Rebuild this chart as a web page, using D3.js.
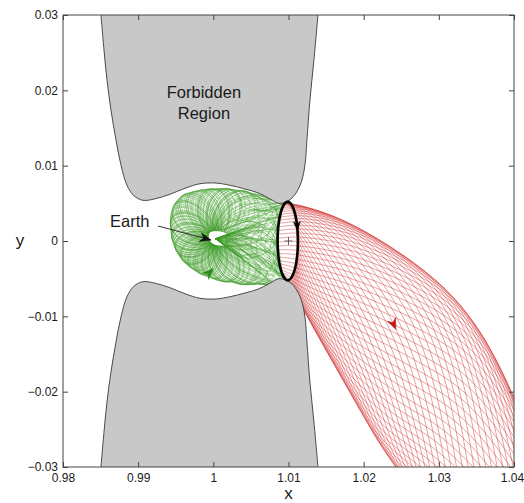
<!DOCTYPE html>
<html><head><meta charset="utf-8">
<script src="https://cdn.jsdelivr.net/npm/d3@7"></script>
<style>
body{margin:0;background:#fff}
svg{display:block}
text{font-family:"Liberation Sans",Arial,Helvetica,sans-serif;fill:#1a1a1a}
</style>
</head><body>
<svg id="chart" width="524" height="503"></svg>
<script>
// ---- axis ticks ----
const xTicks = [0.98, 0.99, 1, 1.01, 1.02, 1.03, 1.04];
const xTickLabels = ["0.98", "0.99", "1", "1.01", "1.02", "1.03", "1.04"];
const yTicks = [-0.03, -0.02, -0.01, 0, 0.01, 0.02, 0.03];
const yTickLabels = ["\u22120.03", "\u22120.02", "\u22120.01", "0", "0.01", "0.02", "0.03"];

// ---- zero-velocity boundary of the upper forbidden lobe (lower lobe = mirror in y) ----
const forbiddenUpper = [
  [0.98505, 0.0300], [0.98545, 0.0254], [0.98585, 0.0214], [0.98638, 0.0174],
  [0.98705, 0.0134], [0.98771, 0.0101], [0.98851, 0.0074], [0.98944, 0.0060],
  [0.99064, 0.0054], [0.99224, 0.0056], [0.99423, 0.0062], [0.99623, 0.0070],
  [0.99822, 0.0076], [1.00022, 0.0077], [1.00221, 0.0074], [1.00421, 0.0069],
  [1.00594, 0.0064], [1.00753, 0.0056], [1.00873, 0.0050], [1.00966, 0.0052],
  [1.01046, 0.0057], [1.01126, 0.0068], [1.01179, 0.0081], [1.01219, 0.0101],
  [1.01245, 0.0134], [1.01285, 0.0187], [1.01338, 0.0240], [1.01392, 0.0300]
];

// ---- periodic orbit about L2 ----
const l2Point = [1.0100, 0];
const orbitCenter = [1.0099, 0];
const orbitRadii = [0.00135, 0.0052];

// ---- unstable manifold tube (red): edge stations from the orbit outwards ----
const redUpperEdge = [
  [1.00953, 0.00504], [1.01152, 0.00478], [1.01551, 0.00358], [1.01950, 0.00173],
  [1.02482, -0.00146], [1.03014, -0.00544], [1.03413, -0.00982], [1.03746, -0.01513],
  [1.04078, -0.02243], [1.04410, -0.03100]
];
const redLowerEdge = [
  [1.01006, -0.00531], [1.01099, -0.00717], [1.01259, -0.01022], [1.01445, -0.01354],
  [1.01684, -0.01778], [1.01950, -0.02243], [1.02216, -0.02707], [1.02456, -0.03039],
  [1.02675, -0.03371], [1.02875, -0.03700]
];

// ---- stable manifold (green): outer envelope in the Earth realm ----
const greenEnvelope = [
  [1.00926, 0.00478], [1.00727, 0.00571], [1.00514, 0.00637], [1.00288, 0.00677],
  [1.00022, 0.00690], [0.99782, 0.00664], [0.99596, 0.00610], [0.99490, 0.00504],
  [0.99436, 0.00345], [0.99436, 0.00146], [0.99476, -0.00053], [0.99569, -0.00226],
  [0.99729, -0.00372], [0.99955, -0.00478], [1.00248, -0.00544], [1.00594, -0.00570],
  [1.00966, -0.00544]
];
const earthFocus = [1.0003, 0.0003];

const redStrands = 64;
const greenStrands = 56;

// ---- annotations ----
const regionLabel = { x: 0.99875, lines: [["Forbidden", 0.01898], ["Region", 0.01619]] };
const earthLabel = { text: "Earth", at: [0.98625, 0.00186], from: [0.99264, 0.00199], to: [0.99969, 0.00013] };
const redArrow = { at: [1.0242, -0.0118], heading: [0.25, 1] };
const greenArrow = { at: [0.99996, -0.00358], heading: [1, -0.1] };

// ---------------------------------------------------------------------------
const W = 524, H = 503;
const margin = { left: 63, right: 10, top: 15, bottom: 36 };
const TAU = 2 * Math.PI;
const svg = d3.select("#chart");
const x = d3.scaleLinear().domain([0.98, 1.04]).range([margin.left, W - margin.right]);
const y = d3.scaleLinear().domain([-0.03, 0.03]).range([H - margin.bottom, margin.top]);
const P = d => [x(d[0]), y(d[1])];

svg.append("defs").append("clipPath").attr("id", "plot")
  .append("rect").attr("x", x(0.98)).attr("y", y(0.03))
  .attr("width", x(1.04) - x(0.98)).attr("height", y(-0.03) - y(0.03));

const plot = svg.append("g").attr("clip-path", "url(#plot)");
const line = d3.line();
const smooth = d3.line().curve(d3.curveCatmullRom.alpha(0.5));

// orbit ellipse in pixel space: phase 0 at the top, pi/2 right, pi bottom, 3pi/2 left
const oc = P(orbitCenter);
const oa = x(orbitCenter[0] + orbitRadii[0]) - x(orbitCenter[0]);
const ob = y(0) - y(orbitRadii[1]);
const orbitAt = phi => [oc[0] + oa * Math.sin(phi), oc[1] - ob * Math.cos(phi)];

// ---- green strands: loops around the Earth realm, then in to the focus ----
const F = P(earthFocus);
const mod = a => ((a % TAU) + TAU) % TAU;
const angOf = p => mod(Math.atan2(-(p[1] - F[1]), p[0] - F[0]));
const distF = p => Math.hypot(p[0] - F[0], p[1] - F[1]);
const polar = [];
greenEnvelope.forEach(d => { const p = P(d); polar.push([angOf(p), distF(p)]); });
d3.range(0, 41).forEach(i => {
  const p = orbitAt(1.5 * Math.PI + (i / 40 - 0.5) * Math.PI * 0.95);
  polar.push([angOf(p), distF(p)]);
});
polar.sort((a, b) => a[0] - b[0]);
const polarAngles = polar.map(q => q[0]);
function envR(a) {
  a = mod(a);
  const n = polar.length;
  const i = d3.bisectLeft(polarAngles, a);
  let p0, p1, a0, a1;
  if (i === 0 || i === n) {
    p0 = polar[n - 1]; p1 = polar[0]; a0 = p0[0]; a1 = p1[0] + TAU;
    if (a < a0) a += TAU;
  } else { p0 = polar[i - 1]; p1 = polar[i]; a0 = p0[0]; a1 = p1[0]; }
  const t = (a - a0) / Math.max(1e-9, a1 - a0);
  return p0[1] + t * (p1[1] - p0[1]);
}
const smoothstep = t => { t = Math.max(0, Math.min(1, t)); return t * t * (3 - 2 * t); };
const greenPaths = d3.range(greenStrands).map(k => {
  const u = k / (greenStrands - 1);
  const start = orbitAt(Math.PI + u * Math.PI);         // left half of the orbit, bottom -> top
  let a0 = angOf(start); if (a0 > Math.PI) a0 -= TAU;
  const psi = TAU * ((k * 9) % greenStrands) / greenStrands;
  const pts = [];
  const n = 280;
  for (let i = 0; i <= n; i++) {
    const s = i / n;
    const a = a0 + s * (TAU - 0.15);
    const g = 1 - 0.84 * (1 - Math.cos(3 * (a - a0) + psi)) / 2;
    const r = envR(a) * g;
    const q = [F[0] + r * Math.cos(a), F[1] - r * Math.sin(a)];
    const b = smoothstep(s / 0.12);
    pts.push([start[0] + (q[0] - start[0]) * b, start[1] + (q[1] - start[1]) * b]);
  }
  pts.push(F);
  return pts;
});
plot.append("g").selectAll("path").data(greenPaths).join("path")
  .attr("d", smooth).attr("fill", "none")
  .attr("stroke", "#3a9a22").attr("stroke-opacity", 0.65).attr("stroke-width", 0.55);

// ---- red strands: helical tube leaving the orbit ----
const uX = d3.interpolateBasis(redUpperEdge.map(d => x(d[0])));
const uY = d3.interpolateBasis(redUpperEdge.map(d => y(d[1])));
const lX = d3.interpolateBasis(redLowerEdge.map(d => x(d[0])));
const lY = d3.interpolateBasis(redLowerEdge.map(d => y(d[1])));
const omega = TAU * 0.32;
function redPoint(phi, s) {
  const t = 0.5 + 0.5 * Math.cos(phi + omega * s);
  const ux = uX(s), uy = uY(s), lx = lX(s), ly = lY(s);
  return [lx + (ux - lx) * t + oa * Math.sin(phi + omega * s) * Math.exp(-s * 8),
          ly + (uy - ly) * t];
}
const redPaths = d3.range(redStrands).map(k => {
  const phi = (k / redStrands) * TAU;
  return d3.range(0, 241).map(i => redPoint(phi, i / 240));
});
plot.append("g").selectAll("path").data(redPaths).join("path")
  .attr("d", line).attr("fill", "none")
  .attr("stroke", "#d02a2a").attr("stroke-opacity", 0.7).attr("stroke-width", 0.65);

// ---- forbidden regions ----
const lowerBoundary = forbiddenUpper.map(d => [d[0], -d[1]]);
[[forbiddenUpper, 0.04], [lowerBoundary, -0.04]].forEach(([pts, edge]) => {
  const curve = pts.map(P);
  const closing = [[pts[pts.length - 1][0], edge], [pts[0][0], edge]].map(P);
  plot.append("path")
    .attr("d", smooth(curve) + "L" + closing.map(p => p.join(",")).join("L") + "Z")
    .attr("fill", "#c8c8c8").attr("stroke", "none");
  plot.append("path").attr("d", smooth(curve))
    .attr("fill", "none").attr("stroke", "#4a4a4a").attr("stroke-width", 1);
});

// ---- periodic orbit and L2 ----
const orbitPts = d3.range(0, 121).map(i => orbitAt(i / 120 * TAU));
plot.append("path").attr("d", line(orbitPts)).attr("fill", "none")
  .attr("stroke", "#000").attr("stroke-width", 2.6);
const l2 = P(l2Point);
plot.append("path").attr("d", `M${l2[0] - 4},${l2[1]}H${l2[0] + 4}M${l2[0]},${l2[1] - 4}V${l2[1] + 4}`)
  .attr("stroke", "#555").attr("stroke-width", 0.9);

// ---- arrowheads ----
function arrowHead(tip, dir, color, len = 11, half = 4.5, notch = 3.5) {
  const m = Math.hypot(dir[0], dir[1]); const d = [dir[0] / m, dir[1] / m]; const nrm = [-d[1], d[0]];
  const b = [tip[0] - len * d[0], tip[1] - len * d[1]];
  const pts = [tip, [b[0] + half * nrm[0], b[1] + half * nrm[1]],
               [tip[0] - (len - notch) * d[0], tip[1] - (len - notch) * d[1]],
               [b[0] - half * nrm[0], b[1] - half * nrm[1]]];
  plot.append("path").attr("d", line(pts) + "Z").attr("fill", color).attr("stroke", color).attr("stroke-width", 0.5);
}
// flow arrow on the strand passing near a point and heading roughly the given way
function flowArrow(paths, spec, color) {
  const target = P(spec.at);
  const hm = Math.hypot(spec.heading[0], spec.heading[1]);
  const h = [spec.heading[0] / hm, spec.heading[1] / hm];
  let best = null, bs = Infinity;
  paths.forEach(path => path.forEach((p, i) => {
    if (i < 2 || i > path.length - 3) return;
    const d = Math.hypot(p[0] - target[0], p[1] - target[1]);
    if (d > 8) return;
    const a = path[i - 2], b = path[i + 2];
    const tl = Math.hypot(b[0] - a[0], b[1] - a[1]) || 1;
    const c = ((b[0] - a[0]) * h[0] + (b[1] - a[1]) * h[1]) / tl;
    const score = d + 12 * (1 - c);
    if (score < bs) { bs = score; best = [path, i]; }
  }));
  const [path, i] = best;
  const a = path[i - 2], b = path[i + 2];
  arrowHead(path[i], [b[0] - a[0], b[1] - a[1]], color);
}
flowArrow(redPaths, redArrow, "#c01818");
flowArrow(greenPaths, greenArrow, "#2a8a1a");
// direction of motion on the orbit
{
  const phi = 1.25;
  const p = orbitAt(phi), q = orbitAt(phi + 0.05);
  arrowHead(q, [q[0] - p[0], q[1] - p[1]], "#000", 9, 3.5, 3);
}

// ---- labels ----
regionLabel.lines.forEach(([t, yy]) => {
  svg.append("text").attr("x", x(regionLabel.x)).attr("y", y(yy))
    .attr("text-anchor", "middle").attr("font-size", 16.5).text(t);
});
svg.append("text").attr("x", x(earthLabel.at[0])).attr("y", y(earthLabel.at[1]))
  .attr("font-size", 16.5).text(earthLabel.text);
{
  const a = P(earthLabel.from), b = P(earthLabel.to);
  plot.append("line").attr("x1", a[0]).attr("y1", a[1]).attr("x2", b[0]).attr("y2", b[1])
    .attr("stroke", "#222").attr("stroke-width", 0.9);
  arrowHead(b, [b[0] - a[0], b[1] - a[1]], "#111", 11, 4.5, 3.5);
}

// ---- axes (ticks inward on all sides) ----
const axisColor = "#444";
function styleAxis(g) {
  g.select(".domain").remove();
  g.selectAll(".tick line").attr("stroke", axisColor);
  g.selectAll(".tick text").attr("font-size", 12).attr("fill", "#222")
    .attr("font-family", '"Liberation Sans",Arial,Helvetica,sans-serif');
}
const xAxisG = svg.append("g").attr("transform", `translate(0,${y(-0.03)})`)
  .call(d3.axisBottom(x).tickValues(xTicks).tickFormat((d, i) => xTickLabels[i]).tickSizeInner(-5).tickSizeOuter(0).tickPadding(6))
  .call(styleAxis);
// keep the last label inside the canvas
xAxisG.selectAll(".tick text").filter(d => d === 1.04).attr("dx", -2);
svg.append("g").attr("transform", `translate(0,${y(0.03)})`)
  .call(d3.axisTop(x).tickValues(xTicks).tickFormat("").tickSizeInner(-5).tickSizeOuter(0))
  .call(styleAxis);
svg.append("g").attr("transform", `translate(${x(0.98)},0)`)
  .call(d3.axisLeft(y).tickValues(yTicks).tickFormat((d, i) => yTickLabels[i]).tickSizeInner(-5).tickSizeOuter(0).tickPadding(5))
  .call(styleAxis);
svg.append("g").attr("transform", `translate(${x(1.04)},0)`)
  .call(d3.axisRight(y).tickValues(yTicks).tickFormat("").tickSizeInner(-5).tickSizeOuter(0))
  .call(styleAxis);
svg.append("rect").attr("x", x(0.98)).attr("y", y(0.03))
  .attr("width", x(1.04) - x(0.98)).attr("height", y(-0.03) - y(0.03))
  .attr("fill", "none").attr("stroke", axisColor).attr("stroke-width", 1);

svg.append("text").attr("x", x(1.01)).attr("y", H - 4).attr("text-anchor", "middle")
  .attr("font-size", 17).text("x");
svg.append("text").attr("x", 20).attr("y", y(0) + 5).attr("text-anchor", "middle")
  .attr("font-size", 17).text("y");
</script>
</body></html>
